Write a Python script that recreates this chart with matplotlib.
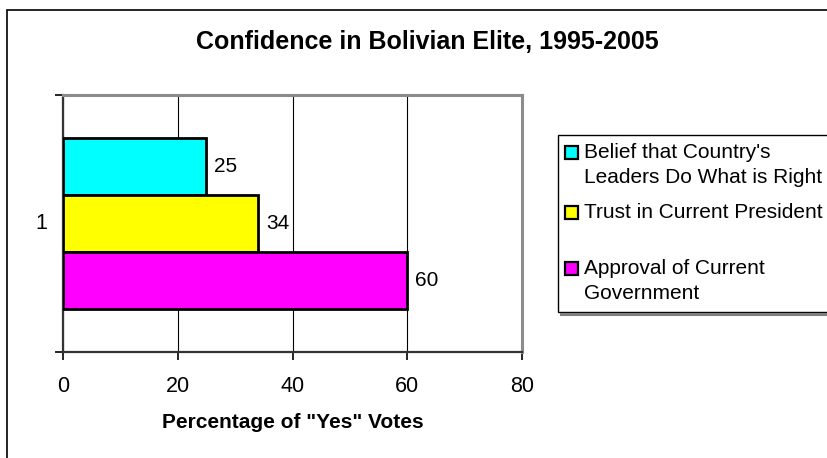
import matplotlib
matplotlib.use("Agg")
import matplotlib.pyplot as plt
from matplotlib.patches import Rectangle

plt.rcParams['font.family'] = ['Liberation Sans', 'DejaVu Sans']

# data
series = ["Belief that Country's\nLeaders Do What is Right",
          "Trust in Current President",
          "Approval of Current\nGovernment"]
values = [25, 34, 60]
colors = ["#00FFFF", "#FFFF00", "#FF00FF"]
category = "1"
x_ticks = [0, 20, 40, 60, 80]

W, H = 827, 458
fig = plt.figure(figsize=(W / 100, H / 100), dpi=100)

# outer chart border (right/bottom run off the picture)
fig.patches.append(Rectangle((7 / W, -0.1), 1.2, 1 - 10 / H + 0.1,
                             transform=fig.transFigure, fill=False,
                             edgecolor="black", linewidth=1.2))

ax = fig.add_axes([63 / W, 1 - 352 / H, (522 - 63) / W, (352 - 95) / H])

# one category, gap width 50% -> group takes 2/3 of the slot
h = (1 / 1.5) / len(values)
offsets = [h, 0, -h]
for v, c, off, lab in zip(values, colors, offsets, series):
    ax.barh(off, v, height=h, color=c, edgecolor="black", linewidth=2,
            label=lab, zorder=3)
    ax.text(v + 1.4, off, str(v), va="center", ha="left", fontsize=15, zorder=4)

ax.set_xlim(0, 80)
ax.set_ylim(-0.5, 0.5)
ax.set_xticks(x_ticks)
ax.set_xticklabels([str(t) for t in x_ticks], fontsize=15.5)
ax.tick_params(axis="x", direction="out", length=6, width=1.2, pad=11)
ax.set_yticks([-0.5, 0.5])
ax.set_yticklabels(["", ""])
ax.tick_params(axis="y", direction="out", length=6, width=1.2)
ax.text(-0.035, 0.5, category, transform=ax.transAxes, ha="right",
        va="center", fontsize=15.5)
ax.xaxis.grid(True, color="black", linewidth=0.8, zorder=0)

for s in ["top", "right"]:
    ax.spines[s].set_color("#8c8c8c")
    ax.spines[s].set_linewidth(2.2)
for s in ["left", "bottom"]:
    ax.spines[s].set_color("#333333")
    ax.spines[s].set_linewidth(1.6)

ax.set_xlabel('Percentage of "Yes" Votes', fontsize=15, fontweight="bold",
              labelpad=12)
fig.text(427 / W, 1 - 42 / H,
         "Confidence in Bolivian Elite, 1995-2005", ha="center", va="center",
         fontsize=18, fontweight="bold")

# legend box, drawn by hand to follow the reference spacing
fig.patches.append(Rectangle((558 / W, 1 - 312 / H), 1.0, (312 - 135) / H,
                             transform=fig.transFigure, facecolor="white",
                             edgecolor="black", linewidth=1.0))
fig.patches.append(Rectangle((560 / W, 1 - 313.5 / H), 1.0, 0,
                             transform=fig.transFigure, fill=False,
                             edgecolor="#808080", linewidth=2.2))
entry_y = [152, 212, 268]
for lab, c, y in zip(series, colors, entry_y):
    fig.patches.append(Rectangle((565 / W, 1 - (y + 6.5) / H), 13 / W, 13 / H,
                                 transform=fig.transFigure, facecolor=c,
                                 edgecolor="black", linewidth=1.6))
    fig.text(584 / W, 1 - (y - 9) / H, lab, ha="left", va="top",
             fontsize=15, linespacing=1.42)

fig.savefig("out.png", dpi=100)
